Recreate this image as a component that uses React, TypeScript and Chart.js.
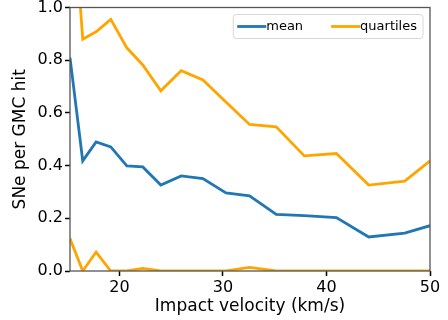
import React, { useEffect, useRef } from 'react';
import { Chart, registerables } from 'chart.js';

Chart.register(...registerables);

const velocity = [15.23, 16.46, 17.75, 19.17, 20.72, 22.26, 24.0, 25.97, 28.07, 30.29, 32.57, 35.15, 37.86, 40.96, 44.08, 47.56, 50.0];
const meanSNe = [0.81, 0.418, 0.49, 0.471, 0.399, 0.395, 0.326, 0.361, 0.351, 0.296, 0.285, 0.215, 0.21, 0.203, 0.129, 0.144, 0.172];
const upperQuartile = [1.55, 0.88, 0.908, 0.955, 0.847, 0.782, 0.684, 0.76, 0.725, 0.641, 0.556, 0.547, 0.437, 0.446, 0.326, 0.341, 0.418];
const lowerQuartile = [0.123, 0, 0.072, 0, 0, 0.01, 0, 0, 0, 0, 0.014, 0, 0, 0, 0, 0, 0];
const xTicks = [20, 30, 40, 50];
const yTicks = [0, 0.2, 0.4, 0.6, 0.8, 1.0];
const seriesLabels = ['mean', 'quartiles'];

const BLUE = '#1f77b4';
const ORANGE = '#ffa500';
const FONT = "'DejaVu Sans', sans-serif";

const framePlugin = {
  id: 'frameAndLegend',
  afterDatasetsDraw(chart: any) {
    const { ctx, chartArea: a } = chart;
    ctx.save();
    // spines
    ctx.strokeStyle = '#555';
    ctx.lineWidth = 1.3;
    ctx.strokeRect(a.left, a.top, a.right - a.left, a.bottom - a.top);

    // legend
    const items = chart.data.datasets
      .filter((d: any) => d.label)
      .map((d: any) => ({ label: d.label, color: d.borderColor }));
    ctx.font = `13px ${FONT}`;
    const padL = 4;
    const padR = 6;
    const handle = 29;
    const colGap = 28;
    let width = padL + padR;
    items.forEach((it: any, i: number) => {
      width += handle + ctx.measureText(it.label).width + (i > 0 ? colGap : 0);
    });
    const h = 24;
    const right = a.right - 7;
    const top = a.top + 7;
    const left = right - width;
    const r = 3;
    ctx.beginPath();
    ctx.moveTo(left + r, top);
    ctx.lineTo(right - r, top);
    ctx.quadraticCurveTo(right, top, right, top + r);
    ctx.lineTo(right, top + h - r);
    ctx.quadraticCurveTo(right, top + h, right - r, top + h);
    ctx.lineTo(left + r, top + h);
    ctx.quadraticCurveTo(left, top + h, left, top + h - r);
    ctx.lineTo(left, top + r);
    ctx.quadraticCurveTo(left, top, left + r, top);
    ctx.closePath();
    ctx.fillStyle = 'rgba(255,255,255,0.8)';
    ctx.fill();
    ctx.strokeStyle = '#d8d8d8';
    ctx.lineWidth = 1;
    ctx.stroke();

    let x = left + padL;
    const cy = top + h / 2;
    items.forEach((it: any, i: number) => {
      if (i > 0) x += colGap;
      ctx.strokeStyle = it.color;
      ctx.lineWidth = 2.8;
      ctx.beginPath();
      ctx.moveTo(x, cy);
      ctx.lineTo(x + handle, cy);
      ctx.stroke();
      x += handle;
      ctx.fillStyle = '#000';
      ctx.textBaseline = 'middle';
      ctx.textAlign = 'left';
      ctx.fillText(it.label, x, cy + 0.5);
      x += ctx.measureText(it.label).width;
    });
    ctx.restore();
  },
};

export default function App() {
  const canvasRef = useRef<HTMLCanvasElement | null>(null);

  useEffect(() => {
    if (!canvasRef.current) return;
    const toPoints = (ys: number[]) => velocity.map((v, i) => ({ x: v, y: ys[i] }));
    const lineStyle = { borderWidth: 2.8, pointRadius: 0, tension: 0, fill: false };
    const chart = new Chart(canvasRef.current, {
      type: 'line',
      data: {
        datasets: [
          { label: seriesLabels[0], data: toPoints(meanSNe), borderColor: BLUE, backgroundColor: BLUE, ...lineStyle },
          { label: seriesLabels[1], data: toPoints(upperQuartile), borderColor: ORANGE, backgroundColor: ORANGE, ...lineStyle },
          { label: '', data: toPoints(lowerQuartile), borderColor: ORANGE, backgroundColor: ORANGE, ...lineStyle },
        ],
      },
      options: {
        animation: false,
        responsive: false,
        maintainAspectRatio: false,
        layout: { padding: { top: 7.5, right: 18, left: 0, bottom: 0 } },
        plugins: { legend: { display: false }, tooltip: { enabled: false } },
        scales: {
          x: {
            type: 'linear',
            min: velocity[0],
            max: velocity[velocity.length - 1],
            afterBuildTicks: (s: any) => { s.ticks = xTicks.map((v) => ({ value: v })); },
            afterFit: (s: any) => { s.height = 49; s.paddingLeft = 0; s.paddingRight = 0; },
            border: { display: false },
            grid: { drawOnChartArea: false, drawTicks: true, tickLength: 5, tickColor: '#000', tickWidth: 1.5 },
            ticks: { color: '#000', font: { family: FONT, size: 16 }, padding: 2, maxRotation: 0, callback: (v: any) => String(v) },
            title: { display: true, text: 'Impact velocity (km/s)', color: '#000', font: { family: FONT, size: 17 }, padding: { top: 0, bottom: 3 } },
          },
          y: {
            type: 'linear',
            min: 0,
            max: 1,
            afterBuildTicks: (s: any) => { s.ticks = yTicks.map((v) => ({ value: v })); },
            afterFit: (s: any) => { s.width = 70; s.paddingTop = 0; s.paddingBottom = 0; },
            border: { display: false },
            grid: { drawOnChartArea: false, drawTicks: true, tickLength: 5, tickColor: '#000', tickWidth: 1.5 },
            ticks: { color: '#000', font: { family: FONT, size: 16 }, padding: 2, callback: (v: any) => Number(v).toFixed(1) },
            title: { display: true, text: 'SNe per GMC hit', color: '#000', font: { family: FONT, size: 17 }, padding: { top: 10, bottom: 0 } },
          },
        },
      },
      plugins: [framePlugin],
    });
    return () => chart.destroy();
  }, []);

  return (
    <div style={{ position: 'absolute', left: 0, top: 0, width: 448, height: 320, background: '#fff' }}>
      <canvas ref={canvasRef} width={448} height={320} style={{ display: 'block', width: 448, height: 320 }} />
    </div>
  );
}
